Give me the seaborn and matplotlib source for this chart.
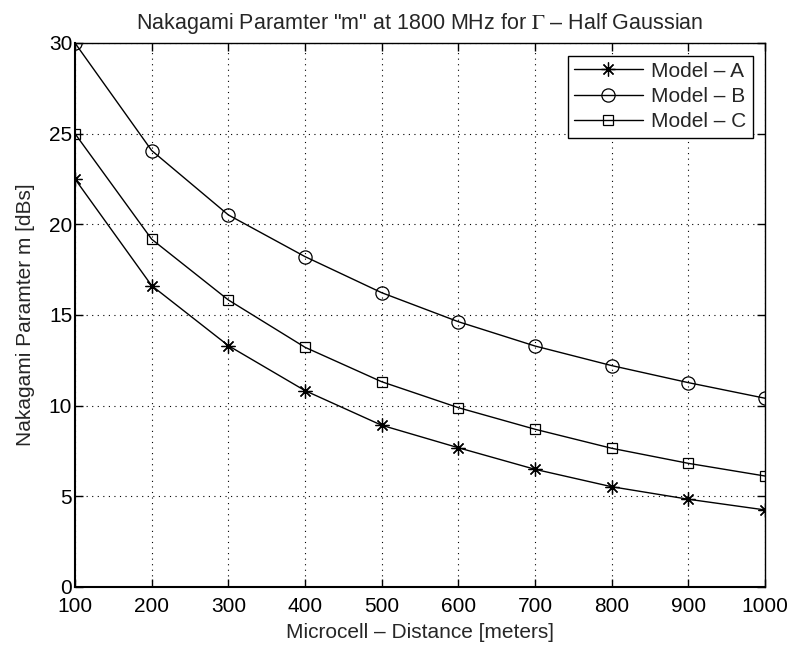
import matplotlib
matplotlib.use("Agg")
import matplotlib.pyplot as plt
import seaborn as sns
import pandas as pd

distance = [100, 200, 300, 400, 500, 600, 700, 800, 900, 1000]
model_a = [22.5, 16.62, 13.31, 10.83, 8.92, 7.68, 6.49, 5.53, 4.84, 4.25]
model_b = [30.0, 24.07, 20.52, 18.22, 16.23, 14.63, 13.29, 12.21, 11.27, 10.41]
model_c = [25.0, 19.18, 15.83, 13.22, 11.32, 9.89, 8.70, 7.65, 6.82, 6.12]
labels = ["Model – A", "Model – B", "Model – C"]
x_ticks = [100, 200, 300, 400, 500, 600, 700, 800, 900, 1000]
y_ticks = [0, 5, 10, 15, 20, 25, 30]

sns.set_style("ticks")
plt.rcParams['font.family'] = ['Liberation Sans', 'DejaVu Sans']
plt.rcParams['mathtext.fontset'] = 'stix'

fig = plt.figure(figsize=(7.93, 6.46), dpi=100)
ax = fig.add_axes([75/793, 1-587/646, (765-75)/793, (587-43)/646])

series = [(model_a, labels[0], (8, 2, 0), 10), (model_b, labels[1], 'o', 9.5), (model_c, labels[2], 's', 7)]
for vals, lab, mk, ms in series:
    df = pd.DataFrame({"d": distance, "m": vals})
    sns.lineplot(data=df, x="d", y="m", ax=ax, color='k', lw=1, marker=mk,
                 markersize=ms, markerfacecolor='none', markeredgecolor='k',
                 markeredgewidth=0.9, label=lab)

ax.set_xlim(100, 1000)
ax.set_ylim(0, 30)
ax.set_xticks(x_ticks)
ax.set_yticks(y_ticks)
ax.tick_params(direction='in', top=True, right=True, length=6, width=1,
               labelsize=15, colors='k')
ax.tick_params(axis='y', pad=2)
ax.tick_params(axis='x', pad=7)
for s in ax.spines.values():
    s.set_visible(True)
    s.set_color('k')
    s.set_linewidth(1)
ax.spines['left'].set_linewidth(1.5)
ax.spines['bottom'].set_linewidth(1.5)
ax.grid(True, linestyle=(0, (1, 4)), color='k', linewidth=0.8)

ax.set_xlabel("Microcell – Distance [meters]", fontsize=15, labelpad=5)
ax.set_ylabel("Nakagami Paramter m [dBs]", fontsize=15, labelpad=10)
ax.set_title('Nakagami Paramter "m" at 1800 MHz for $\\Gamma$ – Half Gaussian', fontsize=15.5, pad=10)

leg = ax.legend(loc='upper right', fontsize=15, frameon=True, fancybox=False,
                edgecolor='k', framealpha=1, handlelength=3.3, borderpad=0.3,
                labelspacing=0.3, handletextpad=0.4, borderaxespad=0.6)
leg.get_frame().set_linewidth(1)

fig.savefig("out.png", dpi=100)
